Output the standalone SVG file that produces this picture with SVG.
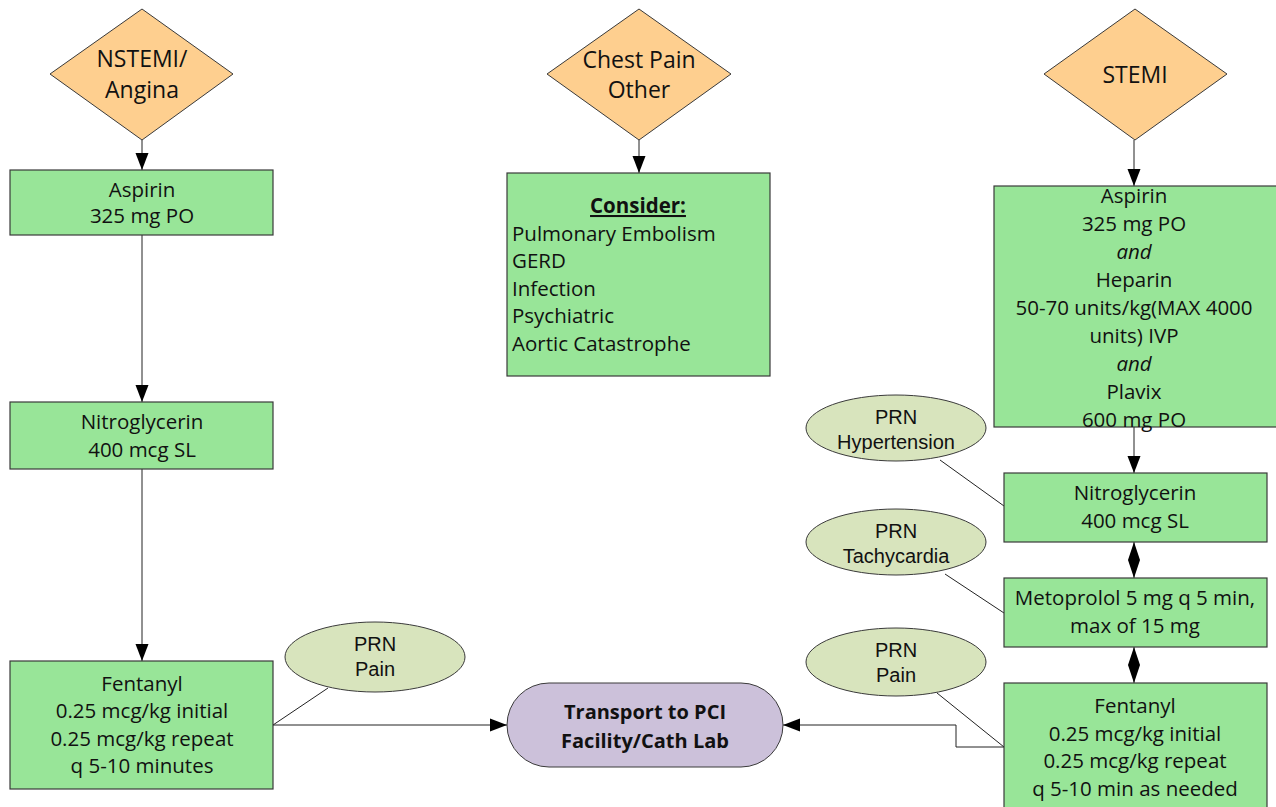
<svg xmlns="http://www.w3.org/2000/svg" width="1276" height="807" viewBox="0 0 1276 807">
  <defs>
    <style>
      .dia { fill: #fecf8f; stroke: #3a3a3a; stroke-width: 1; }
      .box { fill: #98e598; stroke: #3a3a3a; stroke-width: 1.2; }
      .prn { fill: #d8e4bd; stroke: #3a3a3a; stroke-width: 1; }
      .term { fill: #ccc1da; stroke: #3a3a3a; stroke-width: 1; }
      .t { font-family: "Open Sans", "Noto Sans", sans-serif; font-size: 20.5px; fill: #111; text-anchor: middle; }
      .tl { font-family: "Open Sans", "Noto Sans", sans-serif; font-size: 20.5px; fill: #111; }
      .dt { font-family: "Open Sans", "Noto Sans", sans-serif; font-size: 23px; fill: #111; text-anchor: middle; }
      .et { font-family: "Liberation Sans", Arial, sans-serif; font-size: 20px; fill: #111; text-anchor: middle; }
      .bt { font-family: "Open Sans", "Noto Sans", sans-serif; font-size: 20px; font-weight: bold; fill: #111; text-anchor: middle; }
      .ln { fill: none; stroke: #222; stroke-width: 1; }
    </style>
    <!-- single-headed arrow -->
    <marker id="arr" markerUnits="userSpaceOnUse" markerWidth="18" markerHeight="14" refX="17" refY="7" orient="auto">
      <path d="M0,0.5 L17,7 L0,13.5 z" fill="#000"/>
    </marker>
    <!-- narrow head used on both ends of the two-way links -->
    <marker id="arrS" markerUnits="userSpaceOnUse" markerWidth="19" markerHeight="14" refX="18" refY="7" orient="auto-start-reverse">
      <path d="M0,1 L18,7 L0,13 z" fill="#000"/>
    </marker>
  </defs>

  <!-- connectors -->
  <g id="connectors">
    <line class="ln" x1="142" y1="140" x2="142" y2="170" marker-end="url(#arr)"/>
    <line class="ln" x1="142" y1="235" x2="142" y2="402" marker-end="url(#arr)"/>
    <line class="ln" x1="142" y1="469" x2="142" y2="661" marker-end="url(#arr)"/>
    <line class="ln" x1="639" y1="140" x2="639" y2="173" marker-end="url(#arr)"/>
    <line class="ln" x1="1134" y1="140" x2="1134" y2="186" marker-end="url(#arr)"/>
    <line class="ln" x1="1134" y1="427" x2="1134" y2="473" marker-end="url(#arr)"/>
    <line class="ln" x1="1134" y1="542" x2="1134" y2="578" marker-start="url(#arrS)" marker-end="url(#arrS)"/>
    <line class="ln" x1="1134" y1="647" x2="1134" y2="683" marker-start="url(#arrS)" marker-end="url(#arrS)"/>
    <line class="ln" x1="273" y1="725" x2="507" y2="725" marker-end="url(#arr)"/>
    <polyline class="ln" points="1004,747 956,747 956,725 783,725" marker-end="url(#arr)"/>
    <!-- PRN annotation leaders -->
    <line class="ln" x1="328" y1="688" x2="273" y2="725"/>
    <line class="ln" x1="940" y1="460" x2="1004" y2="506"/>
    <line class="ln" x1="945" y1="574" x2="1004" y2="613"/>
    <line class="ln" x1="937" y1="693" x2="1004" y2="747"/>
  </g>

  <!-- NSTEMI / Angina column -->
  <g id="nstemi">
    <polygon class="dia" points="142,9 233,74 142,140 50,74"/>
    <text class="dt" x="142" y="67">NSTEMI/</text>
    <text class="dt" x="142" y="98">Angina</text>
  </g>
  <g id="aspirin-l">
    <rect class="box" x="10" y="170" width="263" height="65"/>
    <text class="t" x="142" y="197">Aspirin</text>
    <text class="t" x="142" y="223">325 mg PO</text>
  </g>
  <g id="nitro-l">
    <rect class="box" x="10" y="402" width="263" height="67"/>
    <text class="t" x="142" y="429">Nitroglycerin</text>
    <text class="t" x="142" y="457">400 mcg SL</text>
  </g>
  <g id="fentanyl-l">
    <rect class="box" x="10" y="661" width="263" height="128"/>
    <text class="t" x="142" y="691">Fentanyl</text>
    <text class="t" x="142" y="718">0.25 mcg/kg initial</text>
    <text class="t" x="142" y="746">0.25 mcg/kg repeat</text>
    <text class="t" x="142" y="773">q 5-10 minutes</text>
  </g>
  <g id="prn-pain-l">
    <ellipse class="prn" cx="375" cy="657" rx="90" ry="35"/>
    <text class="et" x="375" y="651">PRN</text>
    <text class="et" x="375" y="676">Pain</text>
  </g>

  <!-- Chest pain other column -->
  <g id="chest-other">
    <polygon class="dia" points="639,9 731,74 639,140 547,74"/>
    <text class="dt" x="639" y="68">Chest Pain</text>
    <text class="dt" x="639" y="98">Other</text>
  </g>
  <g id="consider">
    <rect class="box" x="507" y="173" width="263" height="203"/>
    <text class="t" x="638" y="213" font-weight="bold" text-decoration="underline">Consider:</text>
    <text class="tl" x="512" y="241">Pulmonary Embolism</text>
    <text class="tl" x="512" y="268">GERD</text>
    <text class="tl" x="512" y="296">Infection</text>
    <text class="tl" x="512" y="323">Psychiatric</text>
    <text class="tl" x="512" y="351">Aortic Catastrophe</text>
  </g>

  <!-- Transport terminator -->
  <g id="transport">
    <rect class="term" x="507" y="683" width="276" height="84" rx="42" ry="42"/>
    <text class="bt" x="645" y="719">Transport to PCI</text>
    <text class="bt" x="645" y="748">Facility/Cath Lab</text>
  </g>

  <!-- STEMI column -->
  <g id="stemi">
    <polygon class="dia" points="1135,9 1227,74 1135,140 1044,74"/>
    <text class="dt" x="1135" y="83">STEMI</text>
  </g>
  <g id="stemi-meds">
    <rect class="box" x="994" y="186" width="290" height="241"/>
    <text class="t" x="1134" y="203">Aspirin</text>
    <text class="t" x="1134" y="231">325 mg PO</text>
    <text class="t" x="1134" y="259" font-style="italic">and</text>
    <text class="t" x="1134" y="287">Heparin</text>
    <text class="t" x="1134" y="315">50-70 units/kg(MAX 4000</text>
    <text class="t" x="1134" y="343">units) IVP</text>
    <text class="t" x="1134" y="371" font-style="italic">and</text>
    <text class="t" x="1134" y="399">Plavix</text>
    <text class="t" x="1134" y="427">600 mg PO</text>
  </g>
  <g id="nitro-r">
    <rect class="box" x="1004" y="473" width="263" height="69"/>
    <text class="t" x="1135" y="500">Nitroglycerin</text>
    <text class="t" x="1135" y="528">400 mcg SL</text>
  </g>
  <g id="metoprolol">
    <rect class="box" x="1004" y="578" width="263" height="69"/>
    <text class="t" x="1135" y="605">Metoprolol 5 mg q 5 min,</text>
    <text class="t" x="1135" y="633">max of 15 mg</text>
  </g>
  <g id="fentanyl-r">
    <rect class="box" x="1004" y="683" width="263" height="140"/>
    <text class="t" x="1135" y="713">Fentanyl</text>
    <text class="t" x="1135" y="741">0.25 mcg/kg initial</text>
    <text class="t" x="1135" y="768">0.25 mcg/kg repeat</text>
    <text class="t" x="1135" y="796">q 5-10 min as needed</text>
  </g>
  <g id="prn-htn">
    <ellipse class="prn" cx="896" cy="428" rx="90" ry="33"/>
    <text class="et" x="896" y="424">PRN</text>
    <text class="et" x="896" y="449">Hypertension</text>
  </g>
  <g id="prn-tachy">
    <ellipse class="prn" cx="896" cy="542" rx="90" ry="33"/>
    <text class="et" x="896" y="538">PRN</text>
    <text class="et" x="896" y="563">Tachycardia</text>
  </g>
  <g id="prn-pain-r">
    <ellipse class="prn" cx="896" cy="662" rx="90" ry="34"/>
    <text class="et" x="896" y="657">PRN</text>
    <text class="et" x="896" y="682">Pain</text>
  </g>
</svg>
